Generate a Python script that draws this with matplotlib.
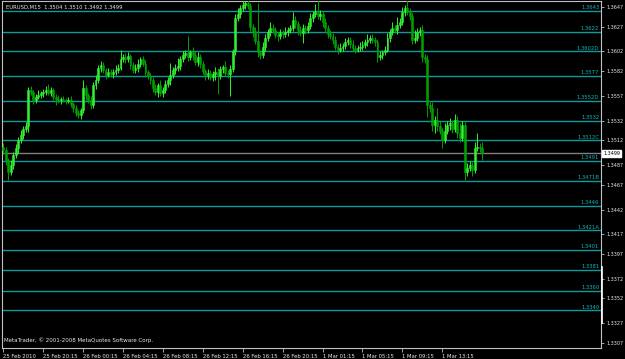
import matplotlib
matplotlib.use("Agg")
import matplotlib.pyplot as plt

# closes in pips above 1.3300, one per M15 bar
close_pips = [
    202, 192, 180, 187, 197, 204, 212, 217, 224, 227,
    263, 261, 253, 256, 258, 260, 261, 263, 260, 263,
    256, 254, 253, 254, 253, 252, 253, 249, 245, 240,
    238, 243, 265, 258, 253, 248, 268, 273, 285, 288,
    283, 278, 281, 279, 281, 283, 285, 294, 296, 294,
    297, 288, 283, 285, 289, 294, 289, 281, 277, 273,
    265, 261, 268, 260, 263, 269, 273, 278, 283, 285,
    287, 294, 298, 300, 296, 301, 298, 291, 296, 289,
    282, 278, 280, 276, 279, 281, 277, 284, 286, 280,
    279, 284, 302, 336, 340, 346, 349, 351, 348, 327,
    323, 313, 301, 298, 307, 316, 322, 326, 324, 319,
    318, 321, 320, 322, 324, 326, 334, 330, 324, 321,
    326, 324, 328, 336, 340, 342, 338, 340, 332, 326,
    320, 318, 314, 307, 304, 306, 308, 312, 314, 310,
    306, 304, 306, 307, 309, 312, 314, 316, 314, 312,
    296, 298, 301, 304, 316, 322, 326, 324, 329, 332,
    342, 346, 342, 338, 314, 316, 322, 324, 296, 294,
    248, 245, 228, 233, 227, 222, 212, 222, 228, 230,
    224, 233, 220, 214, 228, 180, 184, 187, 182, 204,
    205, 204, 199,
]
first_open = 205
# wick lengths in pips (above body / below body)
wick_hi = [
    4, 3, 2, 5, 3, 4, 3, 6, 3, 4,
    3, 4, 2, 3, 5, 2, 3, 4, 6, 3,
    2, 3, 4, 2, 3, 2, 3, 4, 2, 3,
    3, 2, 8, 3, 2, 4, 3, 5, 3, 4,
    3, 2, 4, 3, 3, 5, 4, 10, 3, 4,
    4, 2, 3, 4, 5, 2, 3, 4, 2, 3,
    3, 4, 2, 5, 3, 4, 3, 12, 3, 4,
    8, 3, 5, 4, 18, 3, 6, 4, 5, 3,
    3, 2, 4, 3, 3, 5, 4, 3, 2, 6,
    3, 4, 3, 4, 6, 3, 5, 2, 4, 3,
    3, 4, 38, 3, 5, 4, 3, 6, 4, 3,
    3, 4, 3, 5, 3, 3, 8, 4, 3, 4,
    4, 3, 4, 5, 3, 8, 20, 4, 3, 4,
    3, 4, 3, 4, 3, 5, 3, 4, 3, 3,
    4, 3, 3, 5, 4, 3, 6, 3, 4, 3,
    3, 4, 3, 4, 5, 3, 6, 3, 8, 4,
    5, 3, 12, 4, 3, 8, 4, 3, 5, 3,
    4, 3, 6, 4, 12, 5, 3, 8, 4, 5,
    3, 6, 4, 10, 4, 3, 5, 4, 3, 6,
    14, 4, 6,
]
wick_lo = [
    4, 5, 8, 3, 4, 3, 5, 3, 4, 3,
    6, 3, 4, 3, 2, 3, 4, 3, 2, 3,
    3, 6, 3, 4, 2, 3, 2, 3, 4, 3,
    3, 4, 3, 5, 3, 4, 3, 4, 3, 4,
    3, 4, 2, 3, 4, 3, 3, 2, 3, 4,
    3, 4, 3, 3, 4, 3, 2, 5, 3, 4,
    4, 3, 5, 3, 4, 3, 3, 5, 3, 4,
    3, 4, 3, 3, 4, 3, 5, 3, 4, 4,
    3, 5, 4, 3, 4, 6, 18, 3, 4, 3,
    4, 22, 3, 4, 3, 4, 3, 4, 3, 4,
    6, 3, 5, 4, 3, 4, 3, 4, 3, 3,
    5, 3, 4, 3, 4, 3, 3, 4, 5, 3,
    10, 4, 3, 3, 4, 3, 3, 4, 5, 4,
    4, 3, 4, 3, 5, 3, 4, 3, 3, 4,
    3, 4, 3, 4, 3, 3, 4, 3, 3, 4,
    5, 3, 4, 3, 3, 4, 3, 3, 4, 3,
    3, 4, 3, 4, 4, 3, 3, 4, 5, 4,
    12, 4, 6, 8, 5, 4, 8, 3, 4, 5,
    4, 3, 6, 4, 3, 8, 4, 3, 6, 3,
    3, 4, 7,
]

levels = [1.3643, 1.3622, 1.3602, 1.3577, 1.3552, 1.3532, 1.3512, 1.3491,
          1.3471, 1.3446, 1.3421, 1.3401, 1.3381, 1.3360, 1.3340]
level_labels = ["1.3643", "1.3622", "1.3602D", "1.3577", "1.3552D", "1.3532",
                "1.3512C", "1.3491", "1.3471B", "1.3446", "1.3421A", "1.3401",
                "1.3381", "1.3360", "1.3340"]
price_ticks = [1.3647, 1.3627, 1.3602, 1.3582, 1.3557, 1.3532, 1.3512, 1.3487,
               1.3467, 1.3442, 1.3417, 1.3397, 1.3372, 1.3352, 1.3327, 1.3307]
time_ticks = [0, 16, 32, 48, 64, 80, 96, 112, 128, 144, 160, 176]
time_labels = ["25 Feb 2010", "25 Feb 20:15", "26 Feb 00:15", "26 Feb 04:15",
               "26 Feb 08:15", "26 Feb 12:15", "26 Feb 16:15", "26 Feb 20:15",
               "1 Mar 01:15", "1 Mar 05:15", "1 Mar 09:15", "1 Mar 13:15"]
bid = 1.3499

closes = [1.33 + c * 0.0001 for c in close_pips]
opens = [1.33 + first_open * 0.0001] + closes[:-1]

FONT = "DejaVu Sans"
FS = 3.8
YFS = 3.5
BG = "#000000"
FRAME = "#c0c0c0"
BULL = "#33f033"
BEAR = "#00a000"
LEVEL = "#0a9c9c"

fig = plt.figure(figsize=(6.25, 3.59), dpi=100, facecolor=BG)
ax = fig.add_axes([2 / 625, 11 / 359, 599 / 625, 347 / 359])
ax.set_facecolor(BG)

for i in range(len(closes)):
    o, c = opens[i], closes[i]
    top, bot = max(o, c), min(o, c)
    col = BULL if c >= o else BEAR
    ax.vlines(i, bot - wick_lo[i] * 0.0001, top + wick_hi[i] * 0.0001,
              color=col, linewidth=0.7, zorder=3)
    ax.bar(i, top - bot, bottom=bot, width=0.75, color=col,
           edgecolor=col, linewidth=0.4, zorder=4)

for lv, lab in zip(levels, level_labels):
    ax.axhline(lv, color=LEVEL, linewidth=1.0, zorder=2)
    ax.text(0.997, lv + 0.00008, lab, transform=ax.get_yaxis_transform(),
            ha="right", va="bottom", color="#10b8b8", fontsize=FS, family=FONT)

ax.axhline(bid, color="#808080", linewidth=1.0, zorder=1)

ax.set_xlim(-0.5, 239.6)
ax.set_ylim(1.33019, 1.36531)

ax.yaxis.tick_right()
ax.set_yticks(price_ticks)
ax.set_yticklabels([f"{p:.4f}" for p in price_ticks])
ax.set_xticks(time_ticks)
ax.set_xticklabels(time_labels, ha="left")
ax.tick_params(axis="y", colors=FRAME, labelcolor="#e8e8e8", length=2.5, width=0.6,
               pad=1.2, labelsize=YFS)
ax.tick_params(axis="x", colors=FRAME, labelcolor="#e8e8e8", length=3, width=0.6,
               pad=1, labelsize=FS)
for lab in ax.get_xticklabels() + ax.get_yticklabels():
    lab.set_family(FONT)
for sp in ax.spines.values():
    sp.set_color(FRAME)
    sp.set_linewidth(0.8)

# current bid box on the price scale
ax.text(1.004, bid, f"{bid:.4f}", transform=ax.get_yaxis_transform(),
        ha="left", va="center", color="black", fontsize=YFS, family=FONT,
        bbox=dict(boxstyle="square,pad=0.2", fc="white", ec="white"), zorder=6)
ax.plot([1.001, 1.001], [1.3327, 1.3384], transform=ax.get_yaxis_transform(),
        color="white", linewidth=1.2, clip_on=False, zorder=6)

ax.text(0.006, 0.988, "EURUSD,M15  1.3504 1.3510 1.3492 1.3499", transform=ax.transAxes,
        ha="left", va="top", color="#e8e8e8", fontsize=FS, family=FONT)
ax.text(0.004, 0.015, "MetaTrader, \u00a9 2001-2008 MetaQuotes Software Corp.",
        transform=ax.transAxes, ha="left", va="bottom", color="#e8e8e8",
        fontsize=4.0, family=FONT)

fig.savefig("out.png", dpi=100, facecolor=BG)
